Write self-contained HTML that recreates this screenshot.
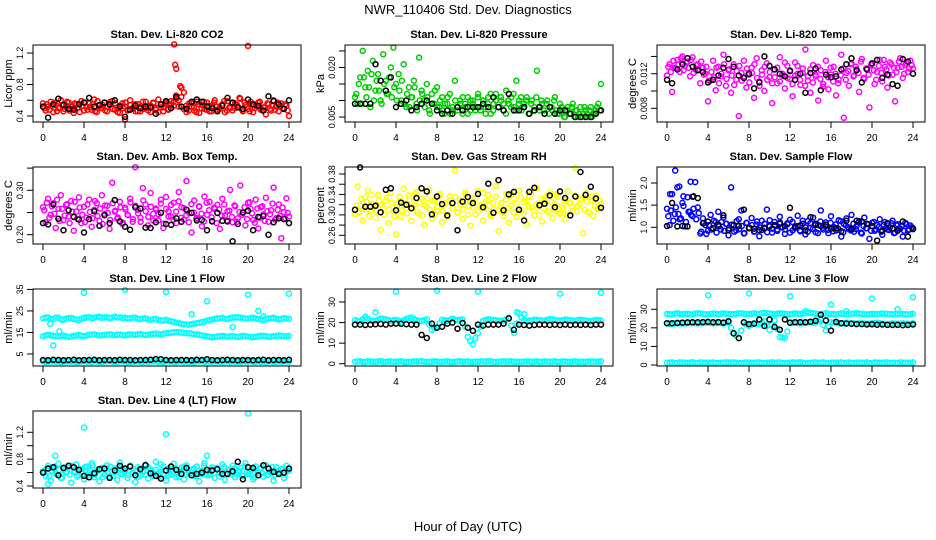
<!DOCTYPE html>
<html><head><meta charset="utf-8"><style>
body{margin:0;background:#fff}
svg{display:block;font-family:"Liberation Sans",Arial,sans-serif}
</style></head><body>
<svg id="c" width="936" height="540" viewBox="0 0 936 540" xmlns="http://www.w3.org/2000/svg">
<rect width="936" height="540" fill="#fff"/>
<text x="468" y="14" font-size="13" text-anchor="middle">NWR_110406  Std. Dev. Diagnostics</text>
<text x="468" y="531" font-size="13" text-anchor="middle">Hour of Day (UTC)</text>
</svg>
<script>
// ---- data ----
const hourTicks = [0,4,8,12,16,20,24];
const co2Red = [0.56,0.47,0.52,0.58,0.45,0.54,0.50,0.60,0.46,0.53,0.57,0.49,0.44,0.55,0.51,0.59,0.47,0.52,0.56,0.48,0.61,0.45,0.53,0.50,0.57,0.46,0.54,0.59,0.48,0.51,0.44,0.56,0.52,0.47,0.60,0.49,0.55,0.46,0.46,0.58,0.50,0.53,0.45,0.57,0.48,0.61,0.51,0.46,0.55,0.49,0.59,0.53,0.62,0.60,0.76,0.70,0.45,0.56,0.52,0.47,0.58,0.44,0.54,0.49,0.57,0.46,0.53,0.60,0.48,0.51,0.55,0.45,0.59,0.50,0.47,0.56,0.52,0.62,0.46,0.54,0.49,0.58,0.45,0.53,0.57,0.48,0.51,0.42,0.55,0.47,0.60,0.52,0.46,0.56,0.49,0.53,0.40];
const co2Core = [0.50,0.55,0.48,0.53,0.57,0.46,0.51,0.54,0.49,0.58,0.47,0.52,0.56,0.50,0.45,0.53,0.57,0.48,0.51,0.55,0.46,0.59,0.50,0.54,0.47,0.52,0.58,0.49,0.56,0.45,0.53,0.50,0.57,0.48,0.54,0.51,0.46,0.55,0.52,0.49,0.58,0.47,0.53,0.56,0.50,0.45,0.54,0.51,0.57,0.48,0.55,0.58,0.66,0.52,0.64,0.49,0.53,0.47,0.56,0.51,0.45,0.55,0.50,0.58,0.48,0.53,0.46,0.57,0.52,0.49,0.54,0.59,0.47,0.51,0.56,0.50,0.54,0.63,0.48,0.57,0.52,0.46,0.55,0.50,0.53,0.58,0.47,0.51,0.56,0.49,0.54,0.48,0.57,0.52,0.50,0.55,0.47];
const co2RedOutX = [12.8,12.9,13.0,20.0,8.0,13.4];
const co2RedOutY = [1.31,1.05,1.00,1.29,0.36,0.78];
const co2Black = [0.52,0.38,0.55,0.62,0.54,0.49,0.48,0.55,0.57,0.63,0.52,0.54,0.57,0.55,0.60,0.52,0.39,0.48,0.53,0.50,0.52,0.51,0.43,0.55,0.59,0.50,0.64,0.52,0.49,0.58,0.61,0.58,0.52,0.50,0.46,0.53,0.63,0.57,0.51,0.49,0.61,0.55,0.53,0.47,0.65,0.59,0.55,0.49,0.60];

const presGreen = [0.011,0.009,0.017,0.025,0.014,0.019,0.008,0.022,0.013,0.018,0.010,0.024,0.016,0.012,0.020,0.026,0.015,0.018,0.010,0.021,0.008,0.014,0.011,0.016,0.009,0.023,0.013,0.010,0.015,0.007,0.012,0.009,0.014,0.008,0.011,0.006,0.009,0.012,0.007,0.016,0.008,0.010,0.006,0.009,0.011,0.007,0.010,0.008,0.012,0.007,0.010,0.008,0.011,0.006,0.009,0.012,0.008,0.010,0.007,0.013,0.009,0.011,0.008,0.016,0.010,0.007,0.009,0.011,0.006,0.010,0.008,0.019,0.007,0.009,0.006,0.010,0.008,0.007,0.011,0.006,0.009,0.007,0.005,0.008,0.006,0.009,0.007,0.005,0.008,0.006,0.007,0.005,0.008,0.006,0.007,0.009,0.015];
const presCore = [0.012,0.015,0.009,0.017,0.011,0.014,0.018,0.010,0.016,0.013,0.009,0.015,0.012,0.017,0.011,0.014,0.010,0.013,0.016,0.009,0.012,0.008,0.011,0.014,0.007,0.010,0.012,0.008,0.011,0.006,0.009,0.013,0.008,0.010,0.007,0.009,0.011,0.006,0.008,0.010,0.007,0.009,0.011,0.008,0.006,0.010,0.009,0.007,0.011,0.008,0.010,0.006,0.009,0.012,0.007,0.010,0.008,0.011,0.009,0.006,0.010,0.008,0.012,0.007,0.009,0.011,0.008,0.010,0.006,0.009,0.007,0.011,0.008,0.010,0.007,0.009,0.006,0.008,0.010,0.007,0.006,0.008,0.005,0.007,0.006,0.008,0.005,0.007,0.006,0.005,0.008,0.006,0.007,0.005,0.006,0.008,0.007];
const presBlack = [0.009,0.009,0.009,0.009,0.021,0.016,0.013,0.017,0.008,0.009,0.010,0.007,0.008,0.009,0.010,0.009,0.007,0.006,0.007,0.006,0.008,0.007,0.008,0.008,0.008,0.009,0.008,0.011,0.008,0.007,0.012,0.007,0.007,0.008,0.006,0.007,0.008,0.006,0.008,0.006,0.007,0.007,0.006,0.005,0.005,0.005,0.005,0.006,0.007];

const tempMagenta = [0.0118,0.0131,0.0099,0.0127,0.0136,0.0122,0.0140,0.0129,0.0134,0.0117,0.0139,0.0125,0.0131,0.0109,0.0127,0.0120,0.0088,0.0112,0.0135,0.0101,0.0128,0.0117,0.0142,0.0106,0.0124,0.0098,0.0131,0.0113,0.0071,0.0121,0.0135,0.0104,0.0119,0.0127,0.0092,0.0138,0.0111,0.0124,0.0100,0.0132,0.0116,0.0086,0.0125,0.0109,0.0139,0.0118,0.0103,0.0129,0.0114,0.0094,0.0133,0.0120,0.0107,0.0126,0.0148,0.0112,0.0098,0.0130,0.0117,0.0089,0.0124,0.0108,0.0135,0.0102,0.0119,0.0128,0.0095,0.0113,0.0142,0.0069,0.0121,0.0106,0.0132,0.0118,0.0125,0.0099,0.0137,0.0114,0.0126,0.0081,0.0131,0.0108,0.0122,0.0136,0.0111,0.0128,0.0104,0.0133,0.0119,0.0088,0.0127,0.0138,0.0115,0.0130,0.0122,0.0135,0.0126];
const tempCore = [0.0128,0.0122,0.0135,0.0126,0.0131,0.0138,0.0124,0.0133,0.0127,0.0136,0.0121,0.0130,0.0125,0.0134,0.0119,0.0128,0.0112,0.0122,0.0116,0.0127,0.0109,0.0120,0.0131,0.0114,0.0125,0.0118,0.0107,0.0123,0.0129,0.0112,0.0117,0.0126,0.0110,0.0121,0.0131,0.0115,0.0106,0.0119,0.0128,0.0113,0.0122,0.0109,0.0116,0.0127,0.0111,0.0120,0.0133,0.0115,0.0124,0.0108,0.0118,0.0129,0.0113,0.0121,0.0106,0.0117,0.0125,0.0110,0.0119,0.0128,0.0114,0.0105,0.0122,0.0116,0.0127,0.0111,0.0120,0.0109,0.0118,0.0126,0.0113,0.0123,0.0131,0.0117,0.0128,0.0121,0.0134,0.0115,0.0126,0.0119,0.0130,0.0124,0.0113,0.0129,0.0121,0.0136,0.0125,0.0118,0.0131,0.0127,0.0122,0.0134,0.0128,0.0120,0.0132,0.0126,0.0130];
const tempBlack = [0.0113,0.0109,0.0125,0.0131,0.0138,0.0128,0.0124,0.0122,0.0110,0.0113,0.0118,0.0127,0.0137,0.0128,0.0118,0.0115,0.0120,0.0103,0.0110,0.0140,0.0129,0.0125,0.0120,0.0117,0.0123,0.0113,0.0120,0.0098,0.0121,0.0126,0.0101,0.0119,0.0116,0.0117,0.0125,0.0131,0.0138,0.0124,0.0110,0.0125,0.0132,0.0136,0.0115,0.0119,0.0108,0.0106,0.0137,0.0134,0.0120];

const ambMagenta = [0.262,0.228,0.281,0.245,0.271,0.215,0.258,0.289,0.233,0.267,0.241,0.276,0.209,0.252,0.284,0.226,0.263,0.238,0.279,0.218,0.256,0.271,0.231,0.289,0.247,0.265,0.213,0.317,0.252,0.236,0.274,0.224,0.261,0.245,0.281,0.229,0.352,0.256,0.238,0.305,0.268,0.221,0.294,0.247,0.259,0.232,0.279,0.215,0.285,0.253,0.241,0.272,0.226,0.296,0.262,0.234,0.321,0.249,0.205,0.277,0.238,0.263,0.219,0.286,0.245,0.274,0.231,0.258,0.267,0.213,0.281,0.243,0.253,0.301,0.228,0.264,0.237,0.311,0.249,0.221,0.272,0.258,0.233,0.279,0.214,0.262,0.246,0.283,0.229,0.255,0.306,0.237,0.268,0.192,0.251,0.282,0.241];
const ambCore = [0.255,0.272,0.238,0.264,0.247,0.279,0.231,0.258,0.243,0.269,0.226,0.252,0.274,0.236,0.261,0.245,0.228,0.268,0.251,0.237,0.276,0.242,0.259,0.224,0.266,0.249,0.233,0.271,0.254,0.239,0.262,0.227,0.257,0.244,0.273,0.235,0.265,0.248,0.229,0.277,0.253,0.240,0.263,0.232,0.256,0.246,0.270,0.225,0.258,0.241,0.267,0.234,0.252,0.275,0.238,0.260,0.244,0.228,0.269,0.250,0.236,0.264,0.247,0.230,0.272,0.255,0.239,0.261,0.226,0.257,0.243,0.268,0.232,0.254,0.240,0.266,0.229,0.251,0.245,0.262,0.235,0.273,0.248,0.227,0.259,0.238,0.264,0.231,0.253,0.246,0.270,0.234,0.256,0.242,0.261,0.237,0.249];
const ambBlack = [0.226,0.223,0.268,0.236,0.210,0.255,0.240,0.234,0.205,0.235,0.253,0.220,0.244,0.226,0.278,0.230,0.218,0.211,0.262,0.259,0.216,0.215,0.228,0.249,0.224,0.222,0.237,0.229,0.256,0.249,0.232,0.233,0.210,0.230,0.249,0.231,0.230,0.185,0.224,0.250,0.254,0.210,0.240,0.242,0.200,0.228,0.237,0.235,0.226];

const rhYellow = [0.301,0.356,0.318,0.289,0.334,0.347,0.308,0.322,0.295,0.339,0.271,0.315,0.328,0.284,0.343,0.306,0.262,0.325,0.297,0.351,0.312,0.338,0.288,0.319,0.345,0.302,0.331,0.281,0.316,0.349,0.293,0.327,0.309,0.341,0.286,0.322,0.298,0.336,0.314,0.387,0.305,0.329,0.292,0.344,0.318,0.279,0.333,0.301,0.347,0.314,0.289,0.326,0.339,0.297,0.312,0.356,0.268,0.323,0.304,0.341,0.285,0.319,0.332,0.296,0.348,0.309,0.325,0.281,0.337,0.314,0.299,0.352,0.318,0.287,0.329,0.307,0.343,0.294,0.321,0.336,0.302,0.313,0.291,0.346,0.324,0.308,0.392,0.317,0.331,0.264,0.342,0.306,0.328,0.298,0.338,0.311,0.322];
const rhCore = [0.318,0.305,0.331,0.312,0.326,0.298,0.339,0.315,0.307,0.328,0.320,0.301,0.334,0.311,0.324,0.297,0.317,0.336,0.309,0.322,0.303,0.330,0.314,0.341,0.306,0.325,0.299,0.319,0.333,0.310,0.327,0.302,0.316,0.338,0.308,0.323,0.296,0.329,0.313,0.335,0.304,0.321,0.311,0.340,0.300,0.326,0.315,0.332,0.307,0.319,0.343,0.312,0.328,0.301,0.324,0.336,0.309,0.317,0.298,0.330,0.314,0.339,0.305,0.322,0.310,0.334,0.302,0.327,0.316,0.342,0.308,0.320,0.299,0.331,0.313,0.337,0.306,0.325,0.311,0.340,0.303,0.318,0.329,0.300,0.323,0.315,0.338,0.307,0.321,0.332,0.310,0.326,0.304,0.335,0.318,0.312,0.328];
const rhBlack = [0.310,0.393,0.316,0.316,0.318,0.305,0.349,0.352,0.309,0.324,0.320,0.313,0.333,0.352,0.346,0.301,0.336,0.321,0.299,0.323,0.270,0.326,0.335,0.323,0.341,0.315,0.361,0.304,0.368,0.309,0.340,0.345,0.310,0.289,0.345,0.353,0.319,0.322,0.338,0.315,0.346,0.333,0.299,0.336,0.384,0.339,0.355,0.332,0.314];

const flowBlue = [1.42,1.05,1.75,1.30,1.90,1.18,1.55,1.02,1.68,1.35,1.25,2.02,1.45,0.86,1.20,1.05,0.92,1.28,0.98,1.12,1.35,0.95,1.22,1.08,0.82,1.90,1.05,0.93,1.18,1.38,0.86,1.10,0.98,1.21,0.90,1.06,0.80,1.15,0.97,1.40,1.02,0.88,1.12,0.95,1.24,1.00,0.85,1.09,1.17,0.93,1.02,1.26,0.91,1.08,0.84,1.14,0.99,1.22,0.89,1.05,1.38,0.95,1.11,0.87,1.25,1.01,0.93,1.16,0.79,1.08,1.20,0.96,1.28,0.90,1.03,1.14,0.86,1.22,0.98,0.74,1.10,0.92,1.05,1.18,0.83,1.12,0.95,1.00,1.15,0.88,1.07,0.97,0.79,1.10,0.93,1.04,0.98];
const flowCore = [1.25,1.38,1.15,1.45,1.30,1.20,1.48,1.12,1.35,1.28,1.42,1.18,1.32,0.90,1.10,0.85,1.05,0.95,1.15,0.88,1.02,1.12,0.92,1.08,0.98,1.06,0.90,1.14,0.96,1.03,0.87,1.10,0.99,1.05,0.91,1.13,1.00,0.94,1.08,0.89,1.16,0.97,1.04,0.92,1.11,1.01,0.95,1.07,0.88,1.12,0.98,1.03,0.93,1.15,1.00,0.90,1.09,0.96,1.05,0.87,1.13,0.99,1.02,0.94,1.10,0.91,1.06,0.97,1.14,0.89,1.04,1.00,0.93,1.08,0.96,1.11,0.88,1.03,0.98,1.07,0.92,1.12,0.95,1.01,0.90,1.06,0.99,0.94,1.09,0.87,1.04,0.97,1.02,0.92,1.07,0.95,1.00];
const flowBlueOutX = [0.8,2.3,0.3,1.2,1.6,2.6];
const flowBlueOutY = [2.28,2.03,1.75,1.92,1.70,1.70];
const flowBlack = [1.03,1.55,1.02,1.03,1.02,1.69,1.66,1.09,1.13,0.98,1.06,1.27,0.94,1.05,1.03,1.40,0.98,0.97,0.94,0.99,1.03,1.05,1.08,1.03,1.44,1.01,1.04,0.93,1.23,1.08,1.03,1.06,0.97,0.98,0.91,1.15,0.96,1.15,1.13,1.08,1.03,0.70,0.92,1.09,0.97,0.92,1.13,0.79,0.96];

const line1High = [21.5,22.0,21.2,21.8,20.9,21.6,21.3,20.7,21.8,22.1,21.9,22.3,22.0,21.7,22.4,22.1,21.8,21.5,21.9,21.2,21.6,20.8,21.3,20.6,20.9,20.2,19.6,19.0,18.7,18.9,19.3,19.8,20.5,21.0,21.6,21.8,21.2,21.9,22.1,21.7,21.4,21.9,21.2,20.8,21.5,21.8,21.0,21.6,21.3];
const line1HighB = [21.8,21.3,21.9,21.1,21.5,21.7,21.0,21.4,22.0,21.6,22.2,21.8,22.1,21.9,22.0,21.7,21.6,21.8,21.4,21.5,21.0,21.1,20.8,20.5,20.4,19.9,19.3,18.8,18.6,19.1,19.5,20.1,20.8,21.3,21.5,21.4,21.7,22.0,21.9,21.5,21.7,21.5,21.0,21.2,21.6,21.4,21.3,21.5];
const line1Mid = [13.2,14.0,13.5,13.1,13.6,12.9,13.4,13.8,13.2,13.9,14.1,13.6,13.8,14.2,13.7,14.0,13.6,14.1,13.9,14.3,13.8,14.2,14.5,14.1,14.6,14.9,15.2,15.0,14.7,14.4,14.1,13.6,13.2,12.7,13.1,13.4,13.0,13.3,12.9,13.4,13.1,12.8,13.2,13.5,13.0,13.3,13.6,13.2,13.4];
const line1MidB = [13.6,13.7,13.3,13.4,13.2,13.1,13.6,13.5,13.6,14.0,13.8,13.7,14.0,13.9,13.9,13.8,13.9,14.0,14.1,14.0,14.0,14.3,14.3,14.4,14.8,15.1,15.1,14.8,14.6,14.2,13.9,13.4,13.0,12.9,13.3,13.2,13.2,13.1,13.2,13.3,12.9,13.0,13.4,13.2,13.1,13.5,13.4,13.3];
const line1Low = [1.6,1.4,1.7,1.5,1.3,1.6,1.5,1.4,1.7,1.5,1.6,1.3,1.5,1.7,1.4,1.6,1.5,1.3,1.6,1.4,1.7,1.5,1.6,1.4,1.5,1.7,1.3,1.6,1.5,1.4,1.6,1.7,1.5,1.4,1.6,1.3,1.5,1.7,1.4,1.6,1.5,1.4,1.7,1.5,1.6,1.3,1.5,1.6,1.4];
const line1LowB = [1.3,1.5,1.4,1.2,1.6,1.4,1.3,1.5,1.4,1.2,1.5,1.3,1.6,1.4,1.3,1.5,1.2,1.4,1.6,1.3,1.4,1.5,1.3,1.2,1.5,1.4,1.6,1.3,1.4,1.2,1.5,1.3,1.4,1.6,1.3,1.5,1.2,1.4,1.3,1.5,1.6,1.4,1.3,1.2,1.5,1.4,1.3,1.5];
const line1OutX = [0.7,4,8,12,16,20,24,1.0,1.6,14.5,18.5,21,21.5];
const line1OutY = [19,33.5,34.8,33.8,29.5,32.5,33,9,15.5,23.5,17.5,25,22.5];
const line1Black = [2.2,2.1,2.3,2.2,2.1,2.2,2.3,2.1,2.2,2.2,2.3,2.1,2.2,2.2,2.1,2.3,2.2,2.2,2.1,2.2,2.2,2.3,2.6,2.5,2.2,2.1,2.2,2.2,2.2,2.1,2.3,2.2,2.5,2.2,2.1,2.2,2.3,2.2,2.1,2.2,2.2,2.1,2.2,2.3,2.1,2.2,2.2,2.1,2.3];

const line2High = [21.2,20.5,22.8,21.0,20.8,22.0,21.5,20.9,21.3,20.4,21.8,22.5,21.1,20.7,21.6,16.5,17.8,21.4,20.8,21.9,21.2,21.5,13.0,9.5,14.8,20.9,21.6,21.3,20.8,21.0,22.3,15.0,24.5,21.0,20.6,21.4,21.2,20.9,21.7,21.3,20.8,21.5,21.1,20.9,21.4,21.0,20.6,21.3,21.0];
const line2HighB = [20.8,21.6,21.9,20.9,21.4,21.8,21.2,21.1,20.9,21.1,22.1,21.8,20.9,21.2,19.0,17.2,19.5,21.1,21.3,21.5,21.3,18.0,11.0,12.5,18.0,21.2,21.4,21.1,20.9,21.6,18.5,19.5,22.5,20.8,21.0,21.3,21.0,21.3,21.5,21.0,21.1,21.3,21.0,21.2,21.2,20.8,21.0,21.1];
const line2Low = [1.0,1.2,0.9,1.1,1.0,1.3,0.9,1.1,1.0,1.2,0.9,1.0,1.1,1.2,0.9,1.0,1.1,1.0,1.2,0.9,1.1,1.0,1.2,0.9,1.0,1.1,1.3,0.9,1.0,1.2,1.1,0.9,1.0,1.1,1.2,1.0,0.9,1.1,1.0,1.2,0.9,1.1,1.0,1.2,1.0,0.9,1.1,1.0,1.2];
const line2LowB = [1.1,0.9,1.2,1.0,1.1,0.9,1.2,1.0,1.1,0.9,1.0,1.2,1.1,1.0,0.9,1.2,1.0,1.1,0.9,1.0,1.2,1.1,0.9,1.0,1.2,1.0,1.1,0.9,1.1,1.0,1.2,0.9,1.0,1.1,0.9,1.2,1.0,1.1,1.0,0.9,1.2,1.0,1.1,0.9,1.0,1.2,1.1,1.0];
const line2OutX = [4,8,12,20,24,2,15.8,16.5,17];
const line2OutY = [35,35.5,35,34,34.5,25,25,24,21];
const line2Black = [19.0,19.0,18.8,19.0,19.2,19.3,19.0,19.5,19.5,19.4,19.2,19.0,19.0,14.0,12.5,19.5,17.5,18.0,19.5,20.0,17.0,19.8,17.5,16.0,19.0,18.5,19.0,19.0,19.0,19.5,22.0,16.5,19.0,18.8,18.5,18.8,19.0,19.0,18.8,19.0,18.8,19.0,18.8,19.0,18.8,19.0,18.8,19.0,19.0];

const line3High = [27.5,27.2,27.8,27.4,27.6,27.3,27.9,27.5,27.2,27.7,27.4,27.8,27.5,27.3,27.9,27.6,27.4,27.8,27.5,28.1,27.7,27.4,27.9,27.6,27.3,27.8,27.5,27.9,28.2,27.6,27.4,27.8,27.5,27.3,27.7,27.4,27.6,27.9,27.5,27.2,27.6,27.4,27.7,27.5,27.3,27.6,27.4,27.2,27.5];
const line3HighB = [27.4,27.6,27.5,27.5,27.4,27.7,27.7,27.3,27.5,27.6,27.6,27.6,27.4,27.6,27.7,27.5,27.6,27.6,27.8,27.9,27.5,27.6,27.7,27.4,27.5,27.6,27.7,28.0,27.9,27.5,27.6,27.6,27.4,27.5,27.5,27.5,27.7,27.7,27.3,27.4,27.5,27.5,27.6,27.4,27.4,27.5,27.3,27.4];
const line3Mid = [22.5,22.0,22.8,22.3,22.6,22.9,22.4,22.7,23.0,22.5,22.8,22.4,23.0,17.5,14.5,22.8,21.0,22.5,22.0,23.5,19.0,24.0,15.0,14.5,22.6,22.9,22.4,22.8,23.0,22.6,24.5,18.5,23.0,22.7,22.4,22.8,22.5,22.3,22.6,22.2,22.5,22.8,22.3,22.0,22.4,22.2,22.5,22.1,22.4];
const line3MidB = [22.2,22.4,22.5,22.4,22.7,22.6,22.5,22.8,22.7,22.6,22.6,22.7,20.0,16.0,18.5,21.9,21.7,22.2,22.7,21.2,21.5,19.5,14.8,18.0,22.7,22.6,22.6,22.9,22.8,23.5,21.5,20.8,22.8,22.5,22.6,22.6,22.4,22.4,22.4,22.3,22.6,22.5,22.1,22.2,22.3,22.3,22.3,22.2];
const line3Low = [1.2,1.4,1.1,1.3,1.2,1.5,1.1,1.3,1.2,1.4,1.1,1.2,1.3,1.4,1.1,1.2,1.3,1.2,1.4,1.1,1.3,1.2,1.4,1.1,1.2,1.3,1.5,1.1,1.2,1.4,1.3,1.1,1.2,1.3,1.4,1.2,1.1,1.3,1.2,1.4,1.1,1.3,1.2,1.4,1.2,1.1,1.3,1.2,1.4];
const line3LowB = [1.3,1.1,1.4,1.2,1.3,1.1,1.4,1.2,1.3,1.1,1.2,1.4,1.3,1.2,1.1,1.4,1.2,1.3,1.1,1.2,1.4,1.3,1.1,1.2,1.4,1.2,1.3,1.1,1.3,1.2,1.4,1.1,1.2,1.3,1.1,1.4,1.2,1.3,1.2,1.1,1.4,1.2,1.3,1.1,1.2,1.4,1.3,1.2];
const line3OutX = [4,8,12,16,20,24,17.5,13.5,22.5];
const line3OutY = [37.5,38.5,37,32.5,35.8,36.5,29,29,30];
const line3Black = [22.5,22.5,22.6,22.8,22.9,23.0,23.0,23.1,23.2,23.0,23.1,22.8,23.5,17.0,14.5,23.0,22.0,22.3,24.5,21.0,24.5,20.5,19.0,24.5,22.8,23.0,23.1,23.0,23.3,23.8,27.0,24.0,18.5,23.2,22.5,22.3,22.2,22.0,22.0,21.8,21.9,21.7,21.8,21.6,21.5,21.6,21.4,21.5,21.8];

const line4Cyan = [0.62,0.55,0.70,0.48,0.66,0.58,0.73,0.52,0.64,0.60,0.68,0.45,0.61,0.72,0.56,0.65,0.50,0.69,0.59,0.74,0.53,0.63,0.47,0.67,0.57,0.71,0.54,0.62,0.66,0.49,0.75,0.58,0.64,0.52,0.70,0.60,0.46,0.68,0.56,0.63,0.72,0.51,0.65,0.59,0.76,0.54,0.61,0.69,0.48,0.66,0.57,0.73,0.53,0.62,0.67,0.50,0.71,0.58,0.64,0.55,0.69,0.47,0.63,0.74,0.56,0.60,0.68,0.52,0.65,0.59,0.72,0.49,0.64,0.57,0.70,0.53,0.61,0.67,0.55,0.74,0.58,0.63,0.50,0.69,0.60,0.66,0.54,0.71,0.57,0.62,0.48,0.68,0.59,0.65,0.52,0.70,0.63];
const line4Core = [0.60,0.66,0.55,0.63,0.69,0.58,0.64,0.52,0.67,0.61,0.57,0.70,0.62,0.54,0.65,0.59,0.68,0.56,0.63,0.71,0.57,0.62,0.66,0.53,0.64,0.60,0.69,0.55,0.61,0.67,0.58,0.65,0.62,0.56,0.70,0.59,0.63,0.54,0.66,0.61,0.57,0.68,0.62,0.55,0.64,0.60,0.72,0.58,0.63,0.56,0.67,0.61,0.65,0.53,0.62,0.69,0.57,0.64,0.60,0.66,0.55,0.63,0.58,0.70,0.61,0.56,0.65,0.59,0.67,0.54,0.62,0.68,0.58,0.64,0.60,0.66,0.57,0.63,0.55,0.69,0.61,0.58,0.65,0.53,0.62,0.67,0.59,0.64,0.56,0.61,0.68,0.57,0.63,0.60,0.66,0.58,0.62];
const line4OutX = [4,12,20,1.2,16,0.5];
const line4OutY = [1.27,1.17,1.48,0.85,0.85,0.43];
const line4Black = [0.60,0.66,0.68,0.56,0.67,0.70,0.68,0.64,0.55,0.53,0.59,0.65,0.66,0.52,0.63,0.70,0.66,0.69,0.56,0.65,0.71,0.59,0.55,0.51,0.63,0.69,0.64,0.58,0.67,0.56,0.58,0.60,0.64,0.63,0.65,0.58,0.58,0.62,0.76,0.50,0.68,0.67,0.56,0.71,0.66,0.61,0.58,0.60,0.66];

// ---- panel definitions ----
const panels = [
 {r:0,c:0,name:'co2',title:'Stan. Dev. Li-820 CO2',ylab:'Licor ppm',ymin:0.324,ymax:1.302,ticks:[0.4,0.6,0.8,1.0,1.2],labels:[0.4,0.8,1.2],dec:1,
  series:[{v:co2Red,col:'#ff0000'},{v:co2Core,col:'#ff0000',off:0.125},{x:co2RedOutX,v:co2RedOutY,col:'#ff0000'},{v:co2Black,col:'#000'}]},
 {r:0,c:1,name:'pressure',title:'Stan. Dev. Li-820 Pressure',ylab:'kPa',ymin:0.0035,ymax:0.0268,ticks:[0.005,0.010,0.015,0.020,0.025],labels:[0.005,0.020],dec:3,
  series:[{v:presGreen,col:'#00cd00'},{v:presCore,col:'#00cd00',off:0.125},{v:presBlack,col:'#000'}]},
 {r:0,c:2,name:'temp',title:'Stan. Dev. Li-820 Temp.',ylab:'degrees C',ymin:0.00642,ymax:0.01532,ticks:[0.008,0.010,0.012,0.014],labels:[0.008,0.012],dec:3,
  series:[{v:tempMagenta,col:'#ff00ff'},{v:tempCore,col:'#ff00ff',off:0.125},{v:tempBlack,col:'#000'}]},
 {r:1,c:0,name:'amb-box-temp',title:'Stan. Dev. Amb. Box Temp.',ylab:'degrees C',ymin:0.179,ymax:0.3525,ticks:[0.20,0.25,0.30,0.35],labels:[0.20,0.30],dec:2,
  series:[{v:ambMagenta,col:'#ff00ff'},{v:ambCore,col:'#ff00ff',off:0.125},{v:ambBlack,col:'#000'}]},
 {r:1,c:1,name:'gas-rh',title:'Stan. Dev. Gas Stream RH',ylab:'percent',ymin:0.243,ymax:0.3937,ticks:[0.26,0.28,0.30,0.32,0.34,0.36,0.38],labels:[0.26,0.30,0.34,0.38],dec:2,
  series:[{v:rhYellow,col:'#ffff00'},{v:rhCore,col:'#ffff00',off:0.125},{v:rhBlack,col:'#000'}]},
 {r:1,c:2,name:'sample-flow',title:'Stan. Dev. Sample Flow',ylab:'ml/min',ymin:0.623,ymax:2.361,ticks:[1.0,1.5,2.0],labels:[1.0,1.5,2.0],dec:1,
  series:[{v:flowBlue,col:'#0000ff'},{v:flowCore,col:'#0000ff',off:0.125},{x:flowBlueOutX,v:flowBlueOutY,col:'#0000ff'},{v:flowBlack,col:'#000'}]},
 {r:2,c:0,name:'line1-flow',title:'Stan. Dev. Line 1 Flow',ylab:'ml/min',ymin:-0.6,ymax:35.2,ticks:[5,15,25,35],labels:[5,15,25,35],dec:0,
  series:[{v:line1High,col:'#00ffff'},{v:line1HighB,col:'#00ffff',off:0.25},{v:line1Mid,col:'#00ffff'},{v:line1MidB,col:'#00ffff',off:0.25},{v:line1Low,col:'#00ffff'},{v:line1LowB,col:'#00ffff',off:0.25},{x:line1OutX,v:line1OutY,col:'#00ffff'},{v:line1Black,col:'#000'}]},
 {r:2,c:1,name:'line2-flow',title:'Stan. Dev. Line 2 Flow',ylab:'ml/min',ymin:-1.1,ymax:36.3,ticks:[0,10,20,30],labels:[0,10,20,30],dec:0,
  series:[{v:line2High,col:'#00ffff'},{v:line2HighB,col:'#00ffff',off:0.25},{v:line2Low,col:'#00ffff'},{v:line2LowB,col:'#00ffff',off:0.25},{x:line2OutX,v:line2OutY,col:'#00ffff'},{v:line2Black,col:'#000'}]},
 {r:2,c:2,name:'line3-flow',title:'Stan. Dev. Line 3 Flow',ylab:'ml/min',ymin:-0.54,ymax:40.9,ticks:[0,10,20,30],labels:[0,10,20,30],dec:0,
  series:[{v:line3High,col:'#00ffff'},{v:line3HighB,col:'#00ffff',off:0.25},{v:line3Mid,col:'#00ffff'},{v:line3MidB,col:'#00ffff',off:0.25},{v:line3Low,col:'#00ffff'},{v:line3LowB,col:'#00ffff',off:0.25},{x:line3OutX,v:line3OutY,col:'#00ffff'},{v:line3Black,col:'#000'}]},
 {r:3,c:0,name:'line4-flow',title:'Stan. Dev. Line 4 (LT) Flow',ylab:'ml/min',ymin:0.37,ymax:1.517,ticks:[0.4,0.6,0.8,1.0,1.2],labels:[0.4,0.8,1.2],dec:1,
  series:[{v:line4Cyan,col:'#00ffff'},{v:line4Core,col:'#00ffff',off:0.125},{x:line4OutX,v:line4OutY,col:'#00ffff'},{v:line4Black,col:'#000'}]}
];

const NS='http://www.w3.org/2000/svg';
const svg=document.getElementById('c');
function mk(tag,attrs,parent){const e=document.createElementNS(NS,tag);for(const k in attrs)e.setAttribute(k,attrs[k]);(parent||svg).appendChild(e);return e;}

panels.forEach(p=>{
  const bx=33+312*p.c, by=45+122*p.r, bw=268, bh=77;
  const g=mk('g',{});
  
  
  const xS=h=>43+312*p.c+h*246/24;
  const yS=v=>by+bh-(v-p.ymin)/(p.ymax-p.ymin)*bh;
  const pts=mk('g',{fill:'none','stroke-width':1.5},g);
  
  
  p.series.forEach(s=>{
    const n=s.v.length, off=s.off||0;
    s.v.forEach((val,i)=>{
      const h=s.x?s.x[i]:off+i*(24-2*off)/(n-1);
      const cc=mk('circle',{cx:xS(h).toFixed(1),cy:yS(val).toFixed(1),r:2.5,stroke:s.col},pts);
      
      
    });
  });
  const box=mk('rect',{x:bx,y:by,width:bw,height:bh,fill:'none',stroke:'#000','stroke-width':1},g);
  
  
  const t=mk('text',{x:bx+bw/2,y:by-7,'font-size':11,'font-weight':'bold','text-anchor':'middle'},g);
  t.textContent=p.title;
  
  
  const xa=mk('g',{stroke:'#000','stroke-width':1},g);
  
  
  mk('line',{x1:xS(0),x2:xS(24),y1:by+bh,y2:by+bh},xa);
  hourTicks.forEach(h=>{
    mk('line',{x1:xS(h),x2:xS(h),y1:by+bh,y2:by+bh+6},xa);
    const tl=mk('text',{x:xS(h),y:by+bh+19,'font-size':10,'text-anchor':'middle',stroke:'none'},xa);
    tl.textContent=h;
    
    
  });
  const ya=mk('g',{stroke:'#000','stroke-width':1},g);
  
  
  mk('line',{x1:bx,x2:bx,y1:yS(p.ticks[0]),y2:yS(p.ticks[p.ticks.length-1])},ya);
  p.ticks.forEach(v=>{mk('line',{x1:bx-6,x2:bx,y1:yS(v),y2:yS(v)},ya);});
  p.labels.forEach(v=>{
    const tx=bx-10, ty=yS(v);
    const tl=mk('text',{x:tx,y:ty,'font-size':9,'text-anchor':'middle',stroke:'none',transform:`rotate(-90 ${tx} ${ty})`},ya);
    tl.textContent=v.toFixed(p.dec);
    
    
  });
  const yl=mk('text',{x:bx-21,y:by+bh/2,'font-size':11,'text-anchor':'middle',transform:`rotate(-90 ${bx-21} ${by+bh/2})`},g);
  yl.textContent=p.ylab;
  
  
});
</script>
</body></html>
